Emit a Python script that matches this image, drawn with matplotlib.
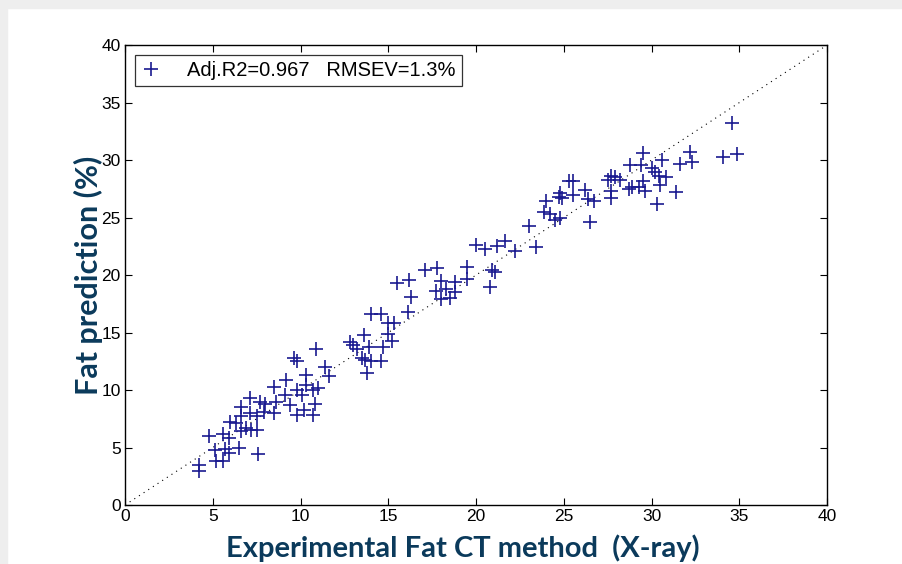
import matplotlib.pyplot as plt
from matplotlib.patches import Rectangle

# valores (experimental vs prediccion, %)
x_exp = [4.2, 4.2, 5.2, 5.6, 5.1, 5.7, 5.9, 6.5, 7.6, 4.8, 5.6, 5.9, 6.0, 6.3, 6.6, 6.6,
         6.9, 7.2, 7.5, 6.6, 7.1, 7.1, 7.5, 7.7, 8.0, 7.9, 8.5, 8.5, 8.6, 9.2, 9.1, 9.4,
         9.8, 10.1, 9.8, 10.3, 10.3, 10.2, 10.7, 11.0, 10.8, 10.7, 9.8, 9.6, 11.4, 11.6,
         10.9, 12.8, 13.0, 13.2, 13.9, 14.7, 13.5, 13.7, 14.0, 14.6, 13.8, 13.6, 14.0, 14.6,
         16.1, 15.0, 15.3, 15.0, 15.2, 15.5, 16.2, 16.3, 17.1, 17.8, 19.5, 19.5, 20.9, 21.1,
         20.8, 18.0, 18.8, 18.3, 18.8, 17.7, 18.0, 18.5, 20.0, 20.5, 21.2, 21.65, 22.2, 23.4,
         23.0, 24.5, 24.8, 23.9, 24.2, 24.0, 24.8, 24.7, 24.9, 25.5, 25.3, 25.5, 26.2, 26.4,
         26.7, 26.5, 27.5, 27.7, 27.9, 28.2, 27.7, 27.7, 28.8, 29.4, 29.5, 29.5, 29.3, 28.7,
         28.9, 29.6, 30.0, 30.2, 30.6, 30.4, 30.8, 30.5, 30.3, 31.4, 31.6, 32.2, 32.3, 34.1,
         34.85, 34.6]
y_pred = [3.5, 3.0, 3.8, 3.8, 4.8, 4.9, 4.5, 5.0, 4.4, 6.0, 6.2, 5.8, 7.2, 7.1, 7.7, 6.4,
          6.7, 6.5, 6.5, 8.5, 9.3, 8.0, 7.7, 9.0, 8.8, 8.1, 8.0, 10.3, 9.0, 10.9, 9.6, 8.7,
          10.0, 9.6, 7.8, 11.3, 10.4, 8.3, 10.0, 10.2, 8.8, 7.8, 12.5, 12.8, 12.0, 11.2,
          13.6, 14.2, 13.9, 13.6, 13.7, 13.7, 12.8, 12.6, 12.5, 12.5, 11.5, 14.8, 16.6, 16.6,
          16.8, 15.8, 15.8, 14.9, 14.3, 19.3, 19.6, 18.1, 20.4, 20.6, 20.7, 19.7, 20.4, 20.3,
          19.0, 19.5, 19.4, 18.8, 18.5, 18.6, 17.9, 18.0, 22.6, 22.3, 22.5, 23.0, 22.1, 22.4,
          24.3, 24.8, 25.0, 25.5, 25.3, 26.4, 27.1, 26.8, 26.7, 27.0, 28.2, 28.2, 27.4, 26.6,
          26.4, 24.6, 28.3, 28.6, 28.5, 28.3, 27.3, 26.7, 29.6, 29.6, 30.6, 28.2, 27.7, 27.5,
          27.7, 27.3, 29.3, 29.0, 30.0, 28.6, 28.5, 27.8, 26.2, 27.2, 29.7, 30.7, 29.8, 30.3,
          30.5, 33.2]
ticks = [0, 5, 10, 15, 20, 25, 30, 35, 40]
etiqueta = 'Adj.R2=0.967   RMSEV=1.3%'

fig = plt.figure(figsize=(9.02, 5.64), dpi=100)
fig.patches.append(Rectangle((0, 0.985), 1, 0.015, transform=fig.transFigure,
                             color='#eeeeee', zorder=0))
fig.patches.append(Rectangle((0, 0), 0.008, 1, transform=fig.transFigure,
                             color='#eeeeee', zorder=0))
ax = fig.add_axes([0.1386, 0.1046, 0.7783, 0.8154])

# linea 1:1
ax.plot([0, 40], [0, 40], color='black', linestyle=(0, (1, 4)), linewidth=0.8)
ax.plot(x_exp, y_pred, linestyle='none', marker='+', color='#1a1a90',
        markersize=10, markeredgewidth=1.2, label=etiqueta)

ax.set_xlim(0, 40)
ax.set_ylim(0, 40)
ax.set_xticks(ticks)
ax.set_yticks(ticks)
ax.tick_params(direction='in', length=5, top=True, right=True, width=0.8, pad=3)
for lab in ax.get_xticklabels() + ax.get_yticklabels():
    lab.set_family('Liberation Sans')
    lab.set_fontsize(12.5)
for s in ax.spines.values():
    s.set_linewidth(1.0)

leg = ax.legend(loc='upper left', prop={'family': 'Liberation Sans', 'size': 14.5},
                frameon=True, fancybox=False, borderaxespad=0.5, handlelength=1.0,
                handletextpad=1.3, borderpad=0.3)
leg.get_frame().set_edgecolor('black')
leg.get_frame().set_linewidth(0.9)

fig.text(0.513, 0.028, 'Experimental Fat CT method  (X-ray)', ha='center', va='center',
         fontsize=21, fontweight='bold', family='Lato', color='#0b3a5b')
fig.text(0.098, 0.512, 'Fat prediction (%)', ha='center', va='center', rotation=90,
         fontsize=22, fontweight='bold', family='Lato', color='#0b3a5b')

fig.savefig('out.png', dpi=100)
